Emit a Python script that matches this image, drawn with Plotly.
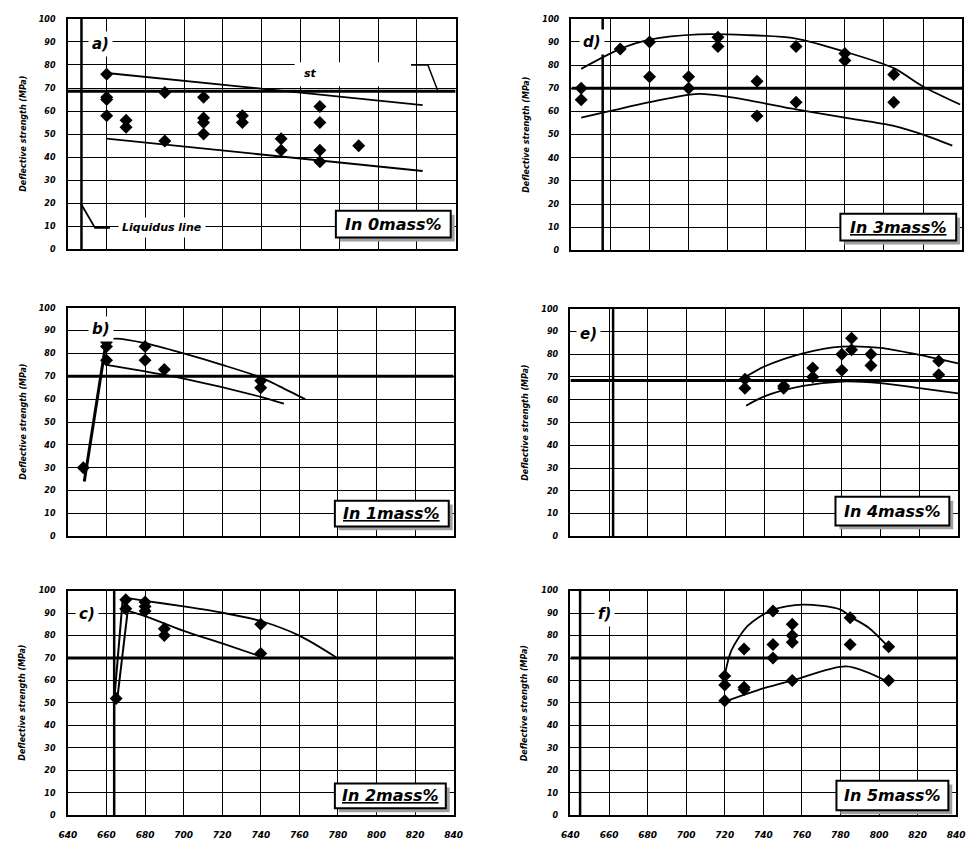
import plotly.graph_objects as go

# ---------------- data ----------------
PANELS = ["a", "d", "b", "e", "c", "f"]
LABELS = {"a": "In 0mass%", "b": "<u>In 1mass%</u>", "c": "<u>In 2mass%</u>",
          "d": "<u>In 3mass%</u>", "e": "In 4mass%", "f": "In 5mass%"}

a_temp = [660, 660, 660, 660, 670, 670, 690, 690, 710, 710, 710, 710, 730, 730, 750, 750, 770, 770, 770, 770, 790]
a_str = [76, 66, 65, 58, 56, 53, 68, 47, 66, 57, 55, 50, 58, 55, 48, 43, 62, 55, 43, 38, 45]
b_temp = [648, 660, 660, 660, 680, 680, 690, 740, 740]
b_str = [30, 85, 83, 77, 83, 77, 73, 68, 65]
c_temp = [665, 670, 670, 680, 680, 680, 690, 690, 740, 740]
c_str = [52, 96, 92, 95, 93, 91, 83, 80, 85, 72]
d_temp = [645, 645, 665, 680, 680, 700, 700, 715, 715, 735, 735, 755, 755, 780, 780, 805, 805]
d_str = [70, 65, 87, 90, 75, 75, 70, 92, 88, 73, 58, 88, 64, 85, 82, 76, 64]
e_temp = [730, 730, 750, 750, 765, 765, 780, 780, 785, 785, 795, 795, 830, 830]
e_str = [69, 65, 66, 65, 74, 70, 80, 73, 87, 82, 80, 75, 77, 71]
f_temp = [720, 720, 720, 730, 730, 730, 745, 745, 745, 755, 755, 755, 755, 785, 785, 805, 805]
f_str = [62, 58, 51, 74, 57, 56, 91, 76, 70, 85, 80, 77, 60, 88, 76, 75, 60]

# envelope curves (upper / lower) and steep rise lines
a_up_x = [660, 823]; a_up_y = [76.5, 62.6]
a_lo_x = [660, 823]; a_lo_y = [48, 34]
b_up_x = [660, 665, 680, 700, 720, 740, 750, 763]; b_up_y = [86, 86.5, 84.5, 80, 75, 69.5, 65.5, 60]
b_lo_x = [660, 700, 740, 752]; b_lo_y = [75, 69, 61, 58]
b_rise_x = [648.5, 660]; b_rise_y = [24, 86]
c_up_x = [669, 680, 700, 720, 740, 760, 779]; c_up_y = [97, 95.5, 93, 90.2, 86.5, 80, 70.4]
c_lo_x = [671, 680, 700, 720, 740]; c_lo_y = [91, 88.7, 82.1, 76.5, 70.7]
c_rise1_x = [664, 668.5]; c_rise1_y = [51, 97]
c_rise2_x = [665.5, 671]; c_rise2_y = [51, 91]
d_up_x = [645, 665, 680, 705, 730, 755, 780, 805, 820, 839]
d_up_y = [78.4, 87, 91, 93.3, 93, 91.5, 85.8, 78.7, 70.8, 63]
d_lo_x = [645, 660, 680, 705, 722, 755, 780, 805, 820, 835]
d_lo_y = [57.3, 60.2, 64, 67.6, 66.1, 60.9, 57.3, 53.8, 50, 45.2]
e_up_x = [730.6, 740, 760, 780, 800, 820, 840]; e_up_y = [70.2, 74.6, 80.4, 83.3, 82.8, 79.7, 76]
e_lo_x = [730.6, 740, 760, 780, 800, 820, 840]; e_lo_y = [57.4, 61.5, 66.1, 68, 67.3, 65.1, 62.8]
f_up_x = [720, 723.4, 731.9, 744.1, 760.3, 780, 786, 794.5, 804.7]
f_up_y = [62.3, 73.3, 84.3, 91.2, 93.8, 91.6, 88, 83.6, 75.1]
f_lo_x = [720, 740, 755.3, 783.2, 804.7]; f_lo_y = [50.6, 56.5, 60.1, 66.3, 59.4]

# reference lines
threshold = {"a": 68.6, "b": 70, "c": 70, "d": 70, "e": 68.5, "f": 70}
liquidus = {"a": 647, "b": None, "c": 664, "d": 656, "e": 662, "f": 645}

x_ticks = [640, 660, 680, 700, 720, 740, 760, 780, 800, 820, 840]
y_ticks = [0, 10, 20, 30, 40, 50, 60, 70, 80, 90, 100]

# liquidus-line callout (panel a) and "st" callout
liq_call_x = [646.6, 654, 661.7]; liq_call_y = [20, 9.3, 9.3]
st_call_x = [817, 825.7, 830.7]; st_call_y = [80, 80, 69]

points = {"a": (a_temp, a_str), "b": (b_temp, b_str), "c": (c_temp, c_str),
          "d": (d_temp, d_str), "e": (e_temp, e_str), "f": (f_temp, f_str)}
curves = {
    "a": [(a_up_x, a_up_y, 1.8), (a_lo_x, a_lo_y, 1.8)],
    "b": [(b_up_x, b_up_y, 1.8), (b_lo_x, b_lo_y, 1.8), (b_rise_x, b_rise_y, 3)],
    "c": [(c_up_x, c_up_y, 1.8), (c_lo_x, c_lo_y, 1.8), (c_rise1_x, c_rise1_y, 2), (c_rise2_x, c_rise2_y, 2)],
    "d": [(d_up_x, d_up_y, 1.8), (d_lo_x, d_lo_y, 1.8)],
    "e": [(e_up_x, e_up_y, 1.8), (e_lo_x, e_lo_y, 1.8)],
    "f": [(f_up_x, f_up_y, 1.8), (f_lo_x, f_lo_y, 1.8)],
}

# ---------------- layout ----------------
W, H = 976, 845
boxes = {  # pixel boxes of plot areas: left, right, top, bottom
    "a": (60, 455, 15, 248), "d": (573, 971, 15, 249),
    "b": (60, 453, 307, 538), "e": (572, 967, 308, 538),
    "c": (60, 453, 593, 820), "f": (572, 965, 593, 820),
}
label_box = {  # pixel boxes of the composition labels: left, right, top, bottom
    "a": (333, 450, 209, 236), "b": (332, 448, 502, 528), "c": (332, 445, 788, 813),
    "d": (847, 965, 212, 239), "e": (842, 958, 498, 527), "f": (843, 957, 785, 815),
}
letter_pos = {"a": (657, 89), "b": (657, 90.6), "c": (650, 89.5),
              "d": (650.5, 90), "e": (649.5, 89.1), "f": (657.5, 89.7)}

FONT = "DejaVu Sans"
fig = go.Figure()
shapes = []
annotations = []


def px(v):
    return v / W


def py(v):
    return 1 - v / H


for i, p in enumerate(PANELS, start=1):
    xa = "x" if i == 1 else f"x{i}"
    ya = "y" if i == 1 else f"y{i}"
    l, r, t, b = boxes[p]
    bottom_row = p in ("c", "f")
    fig.update_layout(**{
        ("xaxis" if i == 1 else f"xaxis{i}"): dict(
            domain=[px(l), px(r)], range=[640, 840], tickvals=x_ticks,
            showticklabels=bottom_row, ticks="", showgrid=True,
            gridcolor="black", gridwidth=1.4, zeroline=False,
            showline=True, linecolor="black", linewidth=1.6, mirror=True,
            anchor=ya, fixedrange=True, ticklabelstandoff=10,
            tickfont=dict(family=FONT, size=9, color="black", weight="bold", style="italic"),
        ),
        ("yaxis" if i == 1 else f"yaxis{i}"): dict(
            domain=[py(b), py(t)], range=[0, 100], tickvals=y_ticks,
            ticks="", showgrid=True, gridcolor="black", gridwidth=1.4,
            zeroline=False, showline=True, linecolor="black", linewidth=1.6,
            mirror=True, anchor=xa, fixedrange=True, ticklabelstandoff=9,
            tickfont=dict(family=FONT, size=8, color="black", weight="bold", style="italic"),
        ),
    })

    shapes.append(dict(type="line", xref=xa, yref=ya, x0=640, x1=840,
                       y0=threshold[p], y1=threshold[p], line=dict(color="black", width=3), layer="below"))
    if liquidus[p] is not None:
        shapes.append(dict(type="line", xref=xa, yref=ya, x0=liquidus[p], x1=liquidus[p],
                           y0=0, y1=100, line=dict(color="black", width=2.5), layer="below"))

    for cx, cy, w in curves[p]:
        fig.add_trace(go.Scatter(x=cx, y=cy, mode="lines", xaxis=xa, yaxis=ya,
                                 line=dict(color="black", width=w, shape="spline", smoothing=0.8),
                                 hoverinfo="skip", showlegend=False))
    pxs, pys = points[p]
    fig.add_trace(go.Scatter(x=pxs, y=pys, mode="markers", xaxis=xa, yaxis=ya,
                             marker=dict(symbol="diamond", size=10, color="black"),
                             showlegend=False))

    lx, ly = letter_pos[p]
    annotations.append(dict(x=lx, y=ly, xref=xa, yref=ya, text=p + ")", showarrow=False,
                            xanchor="center", yanchor="middle",
                            bgcolor="white", borderpad=3,
                            font=dict(family=FONT, size=15, color="black", weight="bold", style="italic")))

    # composition label: shadow + framed white box + text
    bl, br, bt, bb = label_box[p]
    shapes.append(dict(type="rect", xref="paper", yref="paper", x0=px(bl + 4), x1=px(br + 4),
                       y0=py(bb + 4), y1=py(bt + 4), fillcolor="#a0a0a0",
                       line=dict(width=0), layer="above"))
    shapes.append(dict(type="rect", xref="paper", yref="paper", x0=px(bl), x1=px(br),
                       y0=py(bb), y1=py(bt), fillcolor="white",
                       line=dict(color="black", width=2), layer="above"))
    annotations.append(dict(x=px((bl + br) / 2), y=py((bt + bb) / 2), xref="paper", yref="paper",
                            xanchor="center", yanchor="middle",
                            text=LABELS[p], showarrow=False,
                            font=dict(family=FONT, size=16, color="black", weight="bold", style="italic")))

    annotations.append(dict(x=px(l - 46), y=py((t + b) / 2), xref="paper", yref="paper",
                            xanchor="center", yanchor="middle",
                            text="Deflective strength (MPa)", textangle=-90, showarrow=False,
                            font=dict(family=FONT, size=8, color="black", weight="bold", style="italic")))

# panel a callouts
fig.add_trace(go.Scatter(x=liq_call_x, y=liq_call_y, mode="lines", xaxis="x", yaxis="y",
                         line=dict(color="black", width=1.8), hoverinfo="skip", showlegend=False))
fig.add_trace(go.Scatter(x=st_call_x, y=st_call_y, mode="lines", xaxis="x", yaxis="y",
                         line=dict(color="black", width=1.5), hoverinfo="skip", showlegend=False))
shapes.append(dict(type="rect", xref="x", yref="y", x0=757, x1=817, y0=70.8, y1=81.2,
                   fillcolor="white", line=dict(width=0), layer="above"))
annotations.append(dict(x=765, y=76.4, xref="x", yref="y", text="st", showarrow=False,
                        xanchor="center", yanchor="middle",
                        font=dict(family=FONT, size=11, color="black", weight="bold", style="italic")))
annotations.append(dict(x=688.5, y=9.5, xref="x", yref="y", text="Liquidus line", showarrow=False,
                        xanchor="center", yanchor="middle",
                        bgcolor="white", borderpad=3,
                        font=dict(family=FONT, size=11, color="black", weight="bold", style="italic")))

fig.update_layout(width=W, height=H, margin=dict(l=0, r=0, t=0, b=0),
                  plot_bgcolor="white", paper_bgcolor="white",
                  shapes=shapes, annotations=annotations, showlegend=False)

fig.write_html("out.html", config={"displayModeBar": False},
               post_script="document.body.style.margin='0px';")
